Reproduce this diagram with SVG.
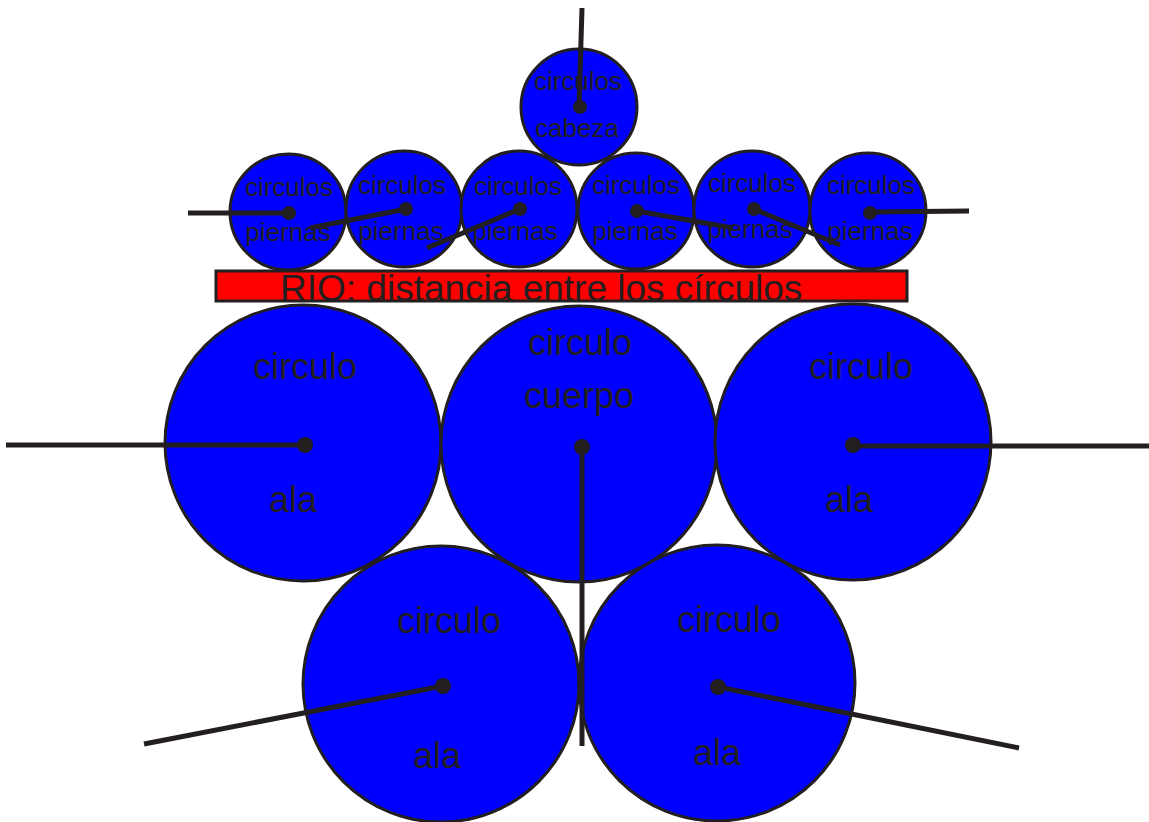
<svg xmlns="http://www.w3.org/2000/svg" width="1149" height="822" viewBox="0 0 1149 822">
<style>
.c{fill:#0000ff;stroke:#231f20;stroke-width:3}
.d{fill:#231f20}
.t{fill:#231f20;font-family:"Liberation Sans",Arial,sans-serif;text-anchor:middle}
.s{font-size:26px}
.b{font-size:36px}
.l{stroke:#231f20;stroke-width:5;fill:none;stroke-linecap:butt}
</style>
<defs>
<clipPath id="rc"><rect x="216" y="271" width="691" height="30"/></clipPath>
</defs>
<rect width="1149" height="822" fill="#ffffff"/>
<g id="rio">
<rect x="216" y="271" width="691" height="30" fill="#ff0000"/>
<text class="t" x="280" y="301" style="text-anchor:start;font-size:37px" clip-path="url(#rc)">RIO: distancia entre los círculos</text>
<rect x="216" y="271" width="691" height="30" fill="none" stroke="#231f20" stroke-width="3"/>
</g>
<g id="cabeza">
<circle class="c" cx="579" cy="107" r="58"/>
<text class="t s" x="578" y="90">circulos</text>
<text class="t s" x="577" y="137">cabeza</text>
</g>
<g id="pierna1">
<circle class="c" cx="288" cy="212" r="58"/>
<text class="t s" x="289" y="196">circulos</text>
<text class="t s" x="288" y="241">piernas</text>
</g>
<g id="pierna2">
<circle class="c" cx="404" cy="209" r="58"/>
<text class="t s" x="402" y="194">circulos</text>
<text class="t s" x="401" y="240">piernas</text>
</g>
<g id="pierna3">
<circle class="c" cx="519" cy="209" r="58"/>
<text class="t s" x="518" y="195">circulos</text>
<text class="t s" x="515" y="240">piernas</text>
</g>
<g id="pierna4">
<circle class="c" cx="636" cy="211" r="58"/>
<text class="t s" x="636" y="194">circulos</text>
<text class="t s" x="635" y="240">piernas</text>
</g>
<g id="pierna5">
<circle class="c" cx="752" cy="209" r="58"/>
<text class="t s" x="752" y="192">circulos</text>
<text class="t s" x="750" y="238">piernas</text>
</g>
<g id="pierna6">
<circle class="c" cx="868" cy="211" r="58"/>
<text class="t s" x="871" y="194">circulos</text>
<text class="t s" x="870" y="240">piernas</text>
</g>
<g id="ala1">
<circle class="c" cx="303" cy="443" r="138"/>
<text class="t b" x="305" y="379">circulo</text>
<text class="t b" x="293" y="512">ala</text>
</g>
<g id="cuerpo">
<circle class="c" cx="579" cy="444" r="138"/>
<text class="t b" x="580" y="355">circulo</text>
<text class="t b" x="579" y="408">cuerpo</text>
</g>
<g id="ala2">
<circle class="c" cx="853" cy="442" r="138"/>
<text class="t b" x="861" y="379">circulo</text>
<text class="t b" x="849" y="512">ala</text>
</g>
<g id="ala3">
<circle class="c" cx="441" cy="684" r="138"/>
<text class="t b" x="449" y="633">circulo</text>
<text class="t b" x="437" y="768">ala</text>
</g>
<g id="ala4">
<circle class="c" cx="717" cy="683" r="138"/>
<text class="t b" x="729" y="632">circulo</text>
<text class="t b" x="717" y="765">ala</text>
</g>
<g id="connectors">
<line class="l" x1="582" y1="8" x2="579" y2="107"/>
<circle class="d" cx="580" cy="107" r="7"/>
<line class="l" x1="188" y1="213" x2="289" y2="213"/>
<circle class="d" cx="289" cy="213" r="7"/>
<line class="l" x1="310" y1="228" x2="406" y2="209"/>
<circle class="d" cx="406" cy="209" r="7"/>
<line class="l" x1="427" y1="248" x2="520" y2="209"/>
<circle class="d" cx="520" cy="209" r="7"/>
<line class="l" x1="637" y1="211" x2="733" y2="228"/>
<circle class="d" cx="637" cy="211" r="7"/>
<line class="l" x1="754" y1="209" x2="840" y2="245"/>
<circle class="d" cx="754" cy="209" r="7"/>
<line class="l" x1="870" y1="212" x2="969" y2="211"/>
<circle class="d" cx="870" cy="213" r="7"/>
<line class="l" x1="6" y1="445" x2="305" y2="445" stroke-width="4"/>
<circle class="d" cx="305" cy="445" r="8"/>
<line class="l" x1="853" y1="446" x2="1149" y2="446" stroke-width="4"/>
<circle class="d" cx="853" cy="445" r="8"/>
<line class="l" x1="582" y1="447" x2="582" y2="746" stroke-width="4"/>
<circle class="d" cx="582" cy="447" r="8"/>
<line class="l" x1="443" y1="686" x2="144" y2="744" stroke-width="4"/>
<circle class="d" cx="443" cy="686" r="8"/>
<line class="l" x1="718" y1="687" x2="1019" y2="748" stroke-width="4"/>
<circle class="d" cx="718" cy="687" r="8"/>
</g>
</svg>
